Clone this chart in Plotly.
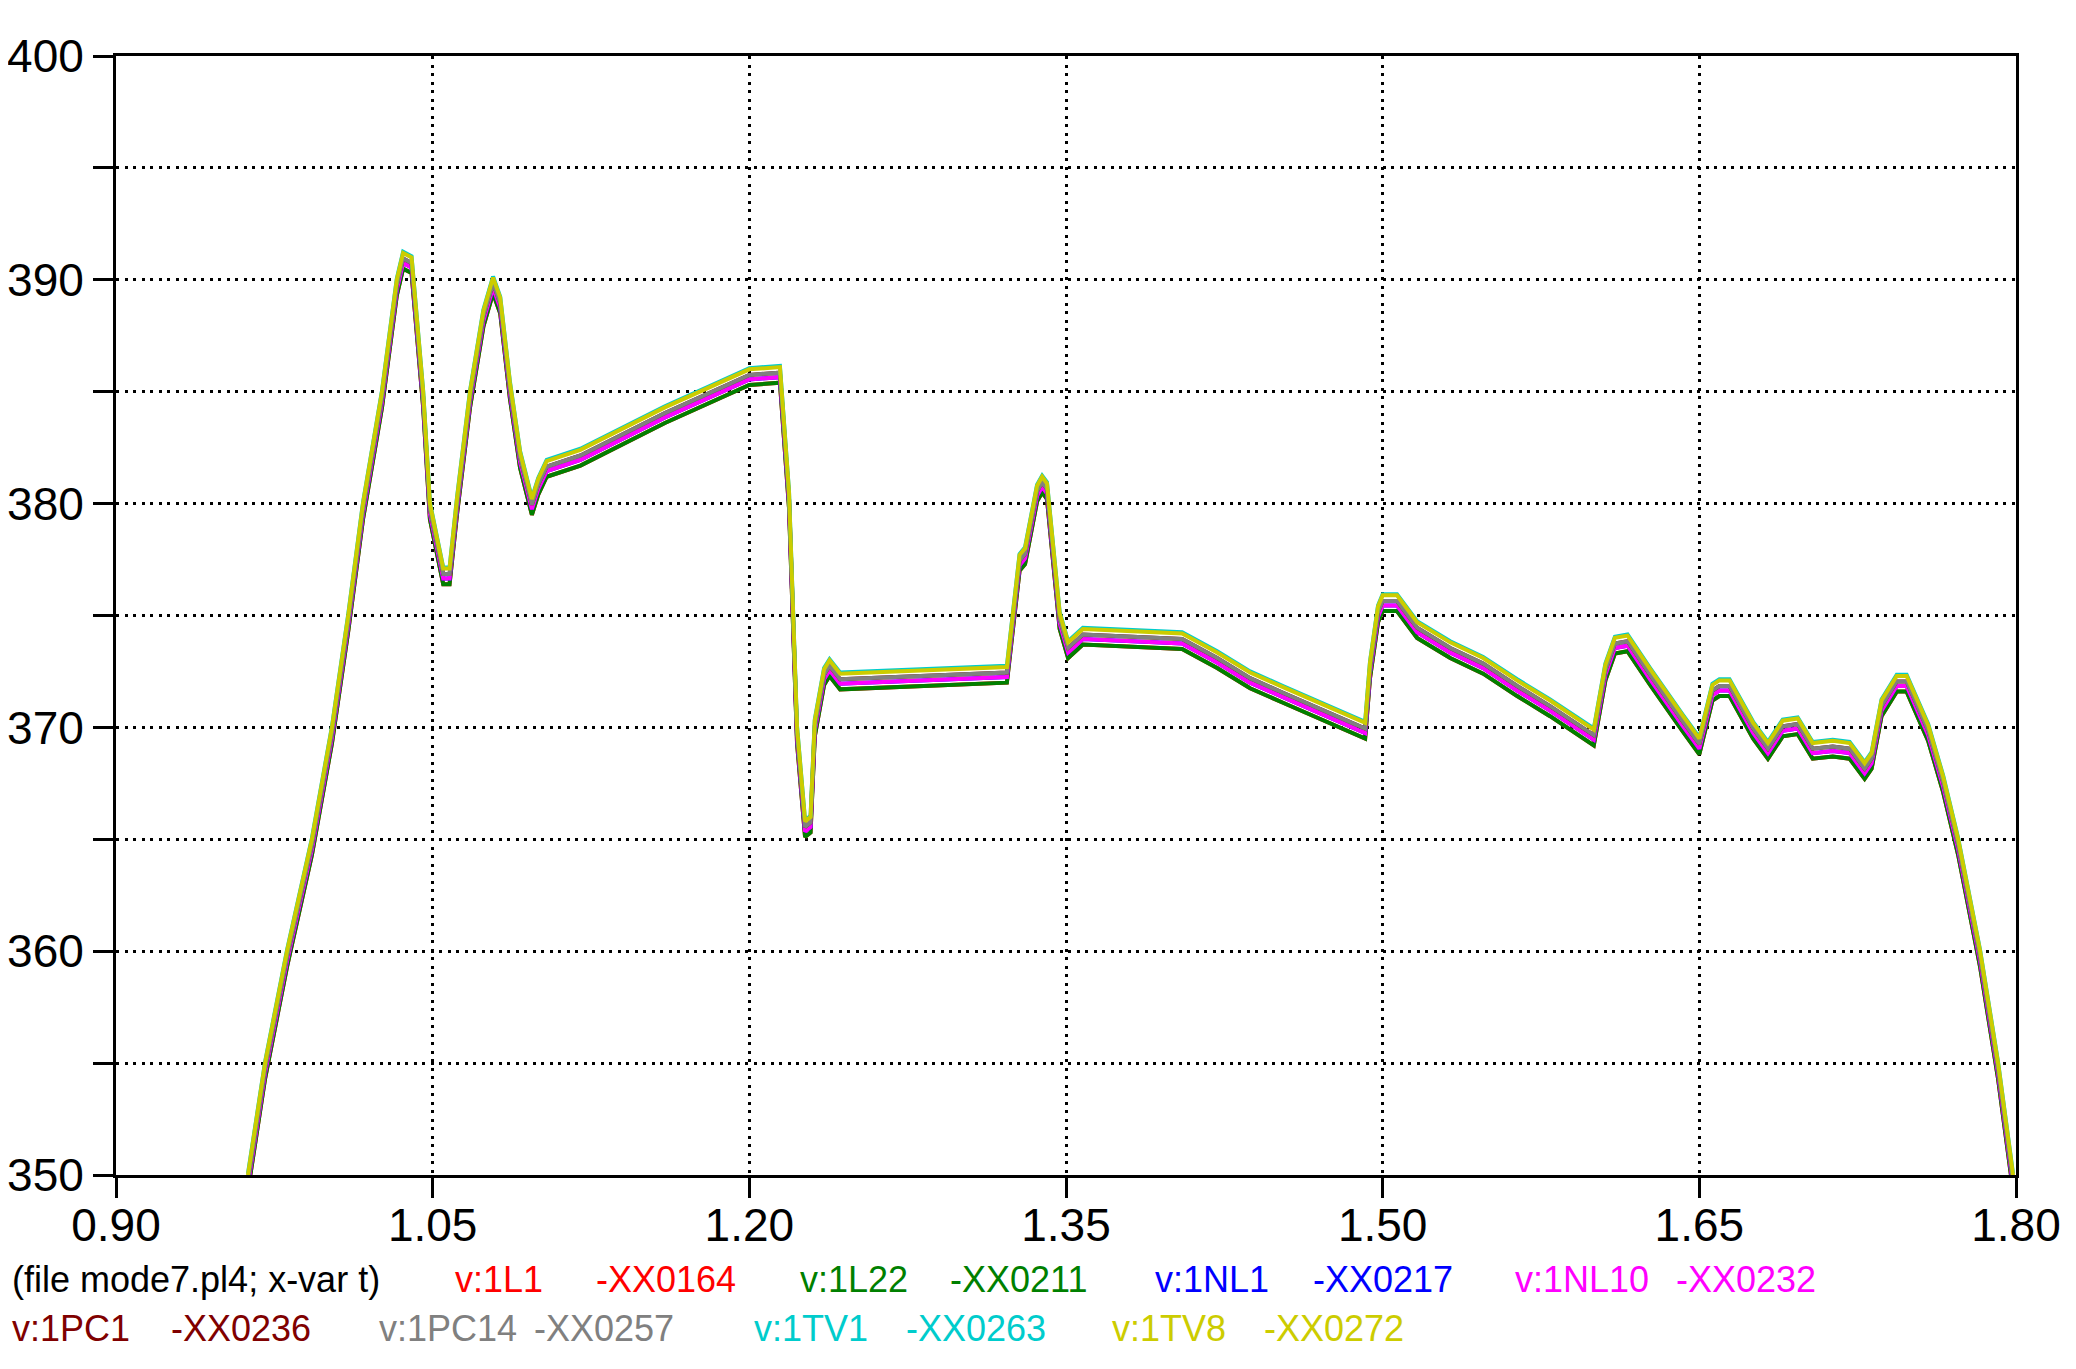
import plotly.graph_objects as go

# ---------------- data ----------------
t = [0.9625, 0.9706, 0.981, 0.9928, 1.0023, 1.010, 1.017, 1.026, 1.033, 1.036,
     1.040, 1.0455, 1.0487, 1.052, 1.055, 1.058, 1.0615, 1.0677, 1.074, 1.0786,
     1.082, 1.0866, 1.0914, 1.097, 1.100, 1.104, 1.120, 1.160, 1.200, 1.2145,
     1.2188, 1.2226, 1.2264, 1.229, 1.231, 1.2354, 1.238, 1.243, 1.290, 1.322,
     1.3244, 1.328, 1.3306, 1.3363, 1.3387, 1.341, 1.347, 1.351, 1.358, 1.405,
     1.4216, 1.4372, 1.4528, 1.4917, 1.494, 1.4978, 1.500, 1.5068, 1.5163, 1.532,
     1.5476, 1.5637, 1.5793, 1.600, 1.6055, 1.610, 1.616, 1.6267, 1.6423, 1.650,
     1.6562, 1.6595, 1.6643, 1.6755, 1.6825, 1.6895, 1.6966, 1.7037, 1.7132, 1.7212,
     1.7283, 1.7316, 1.7363, 1.7435, 1.7482, 1.7584, 1.7655, 1.7726, 1.783, 1.7915,
     1.7986]

v_1TV8 = [350.0, 355.0, 360.0, 365.0, 370.0, 375.0, 380.0, 385.0, 390.0, 391.2,
          391.0, 385.0, 380.0, 378.5, 377.1, 377.1, 380.2, 385.0, 388.6, 390.1,
          389.2, 385.4, 382.3, 380.2, 381.1, 381.9, 382.4, 384.3, 386.0, 386.1,
          380.5, 370.0, 365.8, 366.0, 370.3, 372.6, 373.0, 372.4, 372.6, 372.7,
          374.7, 377.7, 378.0, 380.8, 381.2, 380.9, 375.1, 373.8, 374.4, 374.2,
          373.35, 372.45, 371.8, 370.2, 372.9, 375.4, 375.9, 375.9, 374.7, 373.8,
          373.1, 372.1, 371.2, 369.9, 372.8, 374.0, 374.1, 372.6, 370.5, 369.5,
          371.9, 372.1, 372.1, 370.2, 369.3, 370.3, 370.4, 369.3, 369.4, 369.3,
          368.4, 368.85, 371.2, 372.3, 372.3, 370.1, 367.8, 365.0, 360.0, 355.0,
          350.0]

v_1TV1 = [350.05, 355.05, 360.05, 365.05, 370.05, 375.05, 380.05, 385.05, 390.05, 391.25,
          391.05, 385.05, 380.05, 378.55, 377.15, 377.15, 380.25, 385.05, 388.65, 390.15,
          389.25, 385.45, 382.35, 380.25, 381.15, 381.95, 382.45, 384.35, 386.05, 386.15,
          380.55, 370.05, 365.85, 366.05, 370.35, 372.65, 373.05, 372.45, 372.65, 372.75,
          374.75, 377.75, 378.05, 380.85, 381.25, 380.95, 375.15, 373.85, 374.45, 374.25,
          373.4, 372.5, 371.85, 370.25, 372.95, 375.45, 375.95, 375.95, 374.75, 373.85,
          373.15, 372.15, 371.25, 369.95, 372.85, 374.05, 374.15, 372.65, 370.55, 369.55,
          371.95, 372.15, 372.15, 370.25, 369.35, 370.35, 370.45, 369.35, 369.45, 369.35,
          368.45, 368.9, 371.25, 372.35, 372.35, 370.15, 367.85, 365.05, 360.05, 355.05,
          350.05]

v_1PC14 = [349.75, 354.75, 359.75, 364.75, 369.75, 374.75, 379.75, 384.75, 389.75, 390.95,
           390.75, 384.75, 379.75, 378.25, 376.85, 376.85, 379.95, 384.75, 388.35, 389.85,
           388.95, 385.15, 382.05, 379.95, 380.85, 381.65, 382.15, 384.05, 385.75, 385.85,
           380.25, 369.75, 365.55, 365.75, 370.05, 372.35, 372.75, 372.15, 372.35, 372.45,
           374.45, 377.45, 377.75, 380.55, 380.95, 380.65, 374.85, 373.55, 374.15, 373.95,
           373.1, 372.2, 371.55, 369.95, 372.65, 375.15, 375.65, 375.65, 374.45, 373.55,
           372.85, 371.85, 370.95, 369.65, 372.55, 373.75, 373.85, 372.35, 370.25, 369.25,
           371.65, 371.85, 371.85, 369.95, 369.05, 370.05, 370.15, 369.05, 369.15, 369.05,
           368.15, 368.6, 370.95, 372.05, 372.05, 369.85, 367.55, 364.75, 359.75, 354.75,
           349.75]

v_1NL10 = [349.55, 354.55, 359.55, 364.55, 369.55, 374.55, 379.55, 384.55, 389.55, 390.75,
           390.55, 384.55, 379.55, 378.05, 376.65, 376.65, 379.75, 384.55, 388.15, 389.65,
           388.75, 384.95, 381.85, 379.75, 380.65, 381.45, 381.95, 383.85, 385.55, 385.65,
           380.05, 369.55, 365.35, 365.55, 369.85, 372.15, 372.55, 371.95, 372.15, 372.25,
           374.25, 377.25, 377.55, 380.35, 380.75, 380.45, 374.65, 373.35, 373.95, 373.75,
           372.9, 372.0, 371.35, 369.75, 372.45, 374.95, 375.45, 375.45, 374.25, 373.35,
           372.65, 371.65, 370.75, 369.45, 372.35, 373.55, 373.65, 372.15, 370.05, 369.05,
           371.45, 371.65, 371.65, 369.75, 368.85, 369.85, 369.95, 368.85, 368.95, 368.85,
           367.95, 368.4, 370.75, 371.85, 371.85, 369.65, 367.35, 364.55, 359.55, 354.55,
           349.55]

v_1L22 = [349.3, 354.3, 359.3, 364.3, 369.3, 374.3, 379.3, 384.3, 389.3, 390.5,
          390.3, 384.3, 379.3, 377.8, 376.4, 376.4, 379.5, 384.3, 387.9, 389.4,
          388.5, 384.7, 381.6, 379.5, 380.4, 381.2, 381.7, 383.6, 385.3, 385.4,
          379.8, 369.3, 365.1, 365.3, 369.6, 371.9, 372.3, 371.7, 371.9, 372.0,
          374.0, 377.0, 377.3, 380.1, 380.5, 380.2, 374.4, 373.1, 373.7, 373.5,
          372.65, 371.75, 371.1, 369.5, 372.2, 374.7, 375.2, 375.2, 374.0, 373.1,
          372.4, 371.4, 370.5, 369.2, 372.1, 373.3, 373.4, 371.9, 369.8, 368.8,
          371.2, 371.4, 371.4, 369.5, 368.6, 369.6, 369.7, 368.6, 368.7, 368.6,
          367.7, 368.15, 370.5, 371.6, 371.6, 369.4, 367.1, 364.3, 359.3, 354.3,
          349.3]

# series fully hidden under the others in the picture
v_1L1 = v_1L22
v_1NL1 = v_1NL10
v_1PC1 = v_1PC14

series_names = ["v:1L1", "v:1L22", "v:1NL1", "v:1NL10",
                "v:1PC1", "v:1PC14", "v:1TV1", "v:1TV8"]
series_ids = ["-XX0164", "-XX0211", "-XX0217", "-XX0232",
              "-XX0236", "-XX0257", "-XX0263", "-XX0272"]
series_values = [v_1L1, v_1L22, v_1NL1, v_1NL10, v_1PC1, v_1PC14, v_1TV1, v_1TV8]
series_colors = ["#FF0000", "#008000", "#0000FF", "#FF00FF",
                 "#800000", "#808080", "#00CCCC", "#CCCC00"]

x_ticks = [0.90, 1.05, 1.20, 1.35, 1.50, 1.65, 1.80]
y_ticks = [350, 355, 360, 365, 370, 375, 380, 385, 390, 395, 400]
y_ticktext = ["350", "", "360", "", "370", "", "380", "", "390", "", "400"]
header_text = "(file mode7.pl4; x-var t)"

# ---------------- figure ----------------
# the page body has an 8px default margin, so the figure is 8px smaller
PAGE_OFF = 8
W, H = 2076 - PAGE_OFF, 1369 - PAGE_OFF
L, R, T, B = 116 - PAGE_OFF, 60, 56 - PAGE_OFF, 194
PW, PH = W - L - R, H - T - B

fig = go.Figure()
for name, vals, col in zip(series_names, series_values, series_colors):
    fig.add_trace(go.Scatter(x=t, y=vals, mode="lines", name=name,
                             line=dict(color=col, width=4), showlegend=False))

FONT = "Liberation Sans, Arial, sans-serif"
grid = dict(showgrid=True, gridcolor="black", gridwidth=2.5, griddash="3px,5.5px")
common = dict(ticks="outside", ticklen=20, tickwidth=3, tickcolor="black",
              showline=True, linewidth=3, linecolor="black", mirror=True,
              zeroline=False, automargin=False,
              tickfont=dict(family=FONT, size=46, color="black"))
fig.update_xaxes(range=[0.9, 1.8], tickvals=x_ticks,
                 ticktext=["%.2f" % v for v in x_ticks], ticklabelstandoff=-12,
                 **common, **grid)
fig.update_yaxes(range=[350, 400], tickvals=y_ticks, ticktext=y_ticktext,
                 **common, **grid)


def px2x(px):  # page pixel -> paper x
    return (px - PAGE_OFF - L) / PW


def py2y(py):  # page pixel -> paper y
    return (H - B - (py - PAGE_OFF)) / PH


annotations = []
row1_y, row2_y = 1279, 1328
annotations.append(dict(text=header_text, x=px2x(10), y=py2y(row1_y),
                        color="black"))
legend_pos = [  # (name_x, id_x, row_y) in page pixels
    (453, 594, row1_y), (798, 948, row1_y), (1153, 1311, row1_y), (1513, 1674, row1_y),
    (10, 169, row2_y), (377, 532, row2_y), (752, 904, row2_y), (1110, 1262, row2_y),
]
for (nx, ix, ry), name, sid, col in zip(legend_pos, series_names, series_ids, series_colors):
    annotations.append(dict(text=name, x=px2x(nx), y=py2y(ry), color=col))
    annotations.append(dict(text=sid, x=px2x(ix), y=py2y(ry), color=col))

for a in annotations:
    fig.add_annotation(text=a["text"], x=a["x"], y=a["y"], xref="paper", yref="paper",
                       xanchor="left", yanchor="middle", showarrow=False,
                       font=dict(family=FONT, size=36, color=a["color"]))

fig.update_layout(width=W, height=H, margin=dict(l=L, r=R, t=T, b=B),
                  paper_bgcolor="white", plot_bgcolor="white",
                  font=dict(family=FONT, color="black"))

fig.write_html("out.html")
